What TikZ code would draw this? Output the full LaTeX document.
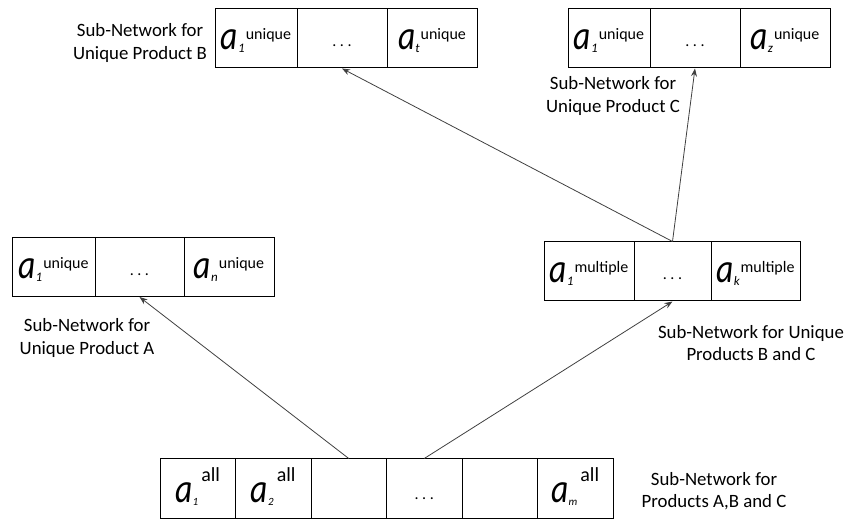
\documentclass[tikz,border=0pt]{standalone}
\usepackage{fontspec}
\usepackage{graphicx}
\setmainfont{Carlito}
\usetikzlibrary{arrows.meta}
\newcommand{\bigA}{\scalebox{0.82}[1]{\fontsize{41}{41}\selectfont\itshape a}}
\newcommand{\uv}[2]{\bigA\raisebox{-3pt}{\fontsize{13}{13}\selectfont\itshape #1}\hspace{1pt}\raisebox{10pt}{\fontsize{16}{16}\selectfont #2}}
\newcommand{\av}[1]{\bigA\raisebox{-3pt}{\fontsize{11}{11}\selectfont\itshape #1}\hspace{3pt}\raisebox{21pt}{\fontsize{20}{20}\selectfont all}}
\newcommand{\cdts}{\raisebox{3pt}{\fontsize{16}{16}\selectfont .\hspace{3.5pt}.\hspace{3.5pt}.}}
\begin{document}
\begin{tikzpicture}[x=1pt,y=-1pt,
  cell/.style={draw=black,line width=1pt,inner sep=0pt,minimum height=59pt,text height=30pt,text depth=7pt},
  bcell/.style={draw=black,line width=1pt,inner sep=0pt,minimum height=60pt,minimum width=75.5pt,text height=32pt,text depth=4pt},
  lbl/.style={align=center,inner sep=0pt,font=\fontsize{18.8}{22.5}\selectfont},
  arr/.style={draw=black!75,line width=0.8pt,-{Stealth[length=8pt,width=6pt]}}]
\useasboundingbox (0,0) rectangle (847,521);
% Box B
\node[cell,minimum width=82pt] (B1) at (256,38.5) {\uv{1}{unique}};
\node[cell,minimum width=90pt] (B2) at (342,38.5) {\cdts};
\node[cell,minimum width=90pt] (B3) at (432,38.5) {\uv{t}{unique}};
% Box C
\node[cell,minimum width=82pt] (C1) at (609,38.5) {\uv{1}{unique}};
\node[cell,minimum width=90pt] (C2) at (695,38.5) {\cdts};
\node[cell,minimum width=90pt] (C3) at (785,38.5) {\uv{z}{unique}};
% Box A
\node[cell,minimum width=83pt] (A1) at (53.5,267) {\uv{1}{unique}};
\node[cell,minimum width=89pt] (A2) at (139.5,267) {\cdts};
\node[cell,minimum width=90pt] (A3) at (229,267) {\uv{n}{unique}};
% Box multiple
\node[cell,minimum width=90pt] (M1) at (589,271.5) {\uv{1}{multiple}};
\node[cell,minimum width=77pt] (M2) at (672.5,271.5) {\cdts};
\node[cell,minimum width=89pt] (M3) at (755.5,271.5) {\uv{k}{multiple}};
% Bottom box
\node[bcell] (b1) at (197.75,489) {\av{1}};
\node[bcell] (b2) at (273.25,489) {\av{2}};
\node[bcell] (b3) at (348.75,489) {};
\node[bcell] (b4) at (424.25,489) {\cdts};
\node[bcell] (b5) at (499.75,489) {};
\node[bcell] (b6) at (575.25,489) {\av{m}};
% Labels
\node[lbl] (lB) at (140,43) {Sub-Network for\\Unique Product B};
\node[lbl] (lC) at (613,96) {Sub-Network for\\Unique Product C};
\node[lbl] (lA) at (87,338) {Sub-Network for\\Unique Product A};
\node[lbl] (lM) at (751,343) {Sub-Network for Unique\\Products B and C};
\node[lbl] (lb) at (714,491) {Sub-Network for\\Products A,B and C};
% Arrows
\draw[arr] (b3.north) -- (A2.south);
\draw[arr] (b4.north) -- (M2.south);
\draw[arr] (M2.north) -- (B2.south);
\draw[arr] (M2.north) -- (C2.south);
\end{tikzpicture}
\end{document}
